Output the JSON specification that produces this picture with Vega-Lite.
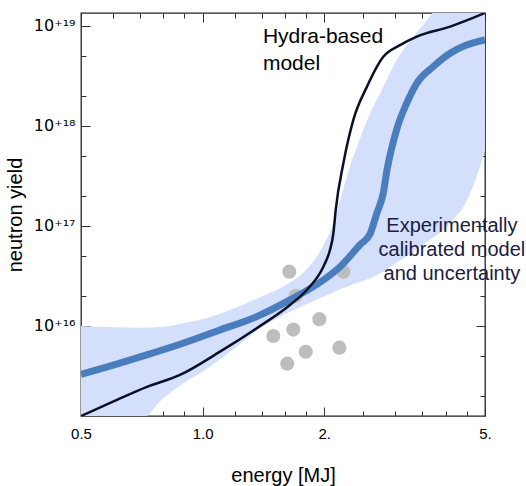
{
  "$schema": "https://vega.github.io/schema/vega-lite/v6.json",
  "width": 404,
  "height": 403,
  "autosize": {"type": "none"},
  "padding": {"left": 81, "top": 13, "right": 41, "bottom": 70},
  "config": {
    "view": {"stroke": "#222", "strokeWidth": 1.3},
    "font": "Liberation Sans",
    "axis": {"domain": false, "grid": false, "ticks": true, "zindex": 1, "tickColor": "#333", "tickWidth": 1, "labelColor": "#000", "titleColor": "#000", "titleFontWeight": "normal"}
  },
  "resolve": {"axis": {"x": "independent", "y": "independent"}},
  "layer": [
    {
      "data": {"values": [
        {"energy": 0.5, "lo": 1.1e15, "hi": 1.0e16},
        {"energy": 0.6, "lo": 1.1e15, "hi": 9.7e15},
        {"energy": 0.7, "lo": 1.15e15, "hi": 9.6e15},
        {"energy": 0.8, "lo": 1.9e15, "hi": 9.8e15},
        {"energy": 0.9, "lo": 2.7e15, "hi": 1.07e16},
        {"energy": 1.0, "lo": 3.5e15, "hi": 1.17e16},
        {"energy": 1.2, "lo": 6.0e15, "hi": 1.5e16},
        {"energy": 1.4, "lo": 9.7e15, "hi": 1.97e16},
        {"energy": 1.6, "lo": 1.31e16, "hi": 2.54e16},
        {"energy": 1.8, "lo": 1.64e16, "hi": 3.6e16},
        {"energy": 2.0, "lo": 1.98e16, "hi": 6.6e16},
        {"energy": 2.1, "lo": 2.15e16, "hi": 1.02e17},
        {"energy": 2.2, "lo": 2.35e16, "hi": 1.93e17},
        {"energy": 2.3, "lo": 2.5e16, "hi": 3.6e17},
        {"energy": 2.4, "lo": 2.68e16, "hi": 5.9e17},
        {"energy": 2.6, "lo": 3.0e16, "hi": 1.34e18},
        {"energy": 2.8, "lo": 3.5e16, "hi": 2.44e18},
        {"energy": 3.0, "lo": 4.2e16, "hi": 4.3e18},
        {"energy": 3.3, "lo": 5.4e16, "hi": 7.5e18},
        {"energy": 3.6, "lo": 7.0e16, "hi": 1.15e19},
        {"energy": 4.0, "lo": 9.6e16, "hi": 2.0e19},
        {"energy": 4.2, "lo": 1.2e17, "hi": 2.4e19},
        {"energy": 4.4, "lo": 1.5e17, "hi": 3.0e19},
        {"energy": 4.6, "lo": 2.14e17, "hi": 3.8e19},
        {"energy": 4.8, "lo": 3.35e17, "hi": 4.4e19},
        {"energy": 5.0, "lo": 5.7e17, "hi": 5.0e19}
      ]},
      "mark": {"type": "area", "color": "#d3dffb", "clip": true, "interpolate": "monotone"},
      "encoding": {
        "x": {
          "field": "energy", "type": "quantitative",
          "scale": {"type": "log", "domain": [0.5, 5], "nice": false, "zero": false},
          "axis": {
            "orient": "bottom",
            "values": [0.5, 1, 2, 5],
            "labelExpr": "datum.value==0.5?'0.5':datum.value==1?'1.0':datum.value==2?'2.':'5.'",
            "tickSize": -9,
            "labelFontSize": 15, "labelPadding": 19,
            "labelOverlap": false, "labelFlush": false, "labelBound": false,
            "title": "energy [MJ]", "titleFontSize": 20, "titlePadding": 24
          }
        },
        "y": {
          "field": "lo", "type": "quantitative",
          "scale": {"type": "log", "domain": [1.26e15, 1.34e19], "nice": false, "zero": false},
          "axis": {
            "orient": "left",
            "values": [1e16, 1e17, 1e18, 1e19],
            "labelExpr": "datum.value==1e16?'10⁺¹⁶':datum.value==1e17?'10⁺¹⁷':datum.value==1e18?'10⁺¹⁸':'10⁺¹⁹'",
            "tickSize": -9,
            "labelFont": "DejaVu Sans",
            "labelFontSize": 16, "labelPadding": 15,
            "labelOverlap": false, "labelFlush": false, "labelBound": false,
            "title": "neutron yield", "titleFontSize": 20, "titlePadding": 8
          }
        },
        "y2": {"field": "hi"}
      }
    },
    {
      "data": {"values": [
        {"energy": 1.639, "yield": 3.49e16},
        {"energy": 1.70, "yield": 2.0e16},
        {"energy": 2.23, "yield": 3.49e16},
        {"energy": 1.945, "yield": 1.17e16},
        {"energy": 1.677, "yield": 9.2e15},
        {"energy": 1.496, "yield": 7.94e15},
        {"energy": 1.80, "yield": 5.53e15},
        {"energy": 2.18, "yield": 6.07e15},
        {"energy": 1.62, "yield": 4.2e15}
      ]},
      "mark": {"type": "circle", "color": "#bdbdbd", "opacity": 1, "size": 200},
      "encoding": {
        "x": {"field": "energy", "type": "quantitative",
          "axis": {"orient": "bottom", "values": [0.6, 0.7, 0.8, 0.9, 1.2, 1.4, 1.6, 1.8, 2.5, 3, 3.5, 4, 4.5], "labels": false, "title": null, "tickSize": -5}},
        "y": {"field": "yield", "type": "quantitative",
          "axis": {"orient": "left", "values": [2e15, 5e15, 2e16, 5e16, 2e17, 5e17, 2e18, 5e18], "labels": false, "title": null, "tickSize": -5}}
      }
    },
    {
      "data": {"values": [
        {"energy": 0.5, "yield": 3.29e15},
        {"energy": 0.601, "yield": 4.07e15},
        {"energy": 0.727, "yield": 5.13e15},
        {"energy": 0.879, "yield": 6.56e15},
        {"energy": 1.104, "yield": 9.12e15},
        {"energy": 1.361, "yield": 1.24e16},
        {"energy": 1.645, "yield": 1.82e16},
        {"energy": 1.99, "yield": 2.88e16},
        {"energy": 2.19, "yield": 3.91e16},
        {"energy": 2.45, "yield": 6.45e16},
        {"energy": 2.60, "yield": 8.4e16},
        {"energy": 2.70, "yield": 1.34e17},
        {"energy": 2.80, "yield": 2.12e17},
        {"energy": 2.86, "yield": 3.6e17},
        {"energy": 3.02, "yield": 9.1e17},
        {"energy": 3.20, "yield": 1.68e18},
        {"energy": 3.39, "yield": 2.66e18},
        {"energy": 3.72, "yield": 3.89e18},
        {"energy": 4.10, "yield": 5.3e18},
        {"energy": 4.50, "yield": 6.4e18},
        {"energy": 5.0, "yield": 7.2e18}
      ]},
      "mark": {"type": "line", "color": "#4a7dbd", "strokeWidth": 7, "interpolate": "monotone", "clip": true},
      "encoding": {
        "x": {"field": "energy", "type": "quantitative",
          "axis": {"orient": "top", "values": [0.5, 1, 2, 5], "labels": false, "title": null, "tickSize": -9}},
        "y": {"field": "yield", "type": "quantitative",
          "axis": {"orient": "right", "values": [1e16, 1e17, 1e18, 1e19], "labels": false, "title": null, "tickSize": -9}}
      }
    },
    {
      "data": {"values": [
        {"energy": 0.5, "yield": 1.26e15},
        {"energy": 0.60, "yield": 1.75e15},
        {"energy": 0.728, "yield": 2.46e15},
        {"energy": 0.879, "yield": 3.24e15},
        {"energy": 1.104, "yield": 5.54e15},
        {"energy": 1.361, "yield": 9.5e15},
        {"energy": 1.645, "yield": 1.62e16},
        {"energy": 1.81, "yield": 2.29e16},
        {"energy": 1.99, "yield": 3.91e16},
        {"energy": 2.066, "yield": 5.74e16},
        {"energy": 2.107, "yield": 8.4e16},
        {"energy": 2.135, "yield": 1.44e17},
        {"energy": 2.23, "yield": 4.2e17},
        {"energy": 2.36, "yield": 1.14e18},
        {"energy": 2.55, "yield": 2.45e18},
        {"energy": 2.80, "yield": 4.9e18},
        {"energy": 3.08, "yield": 6.4e18},
        {"energy": 3.39, "yield": 7.8e18},
        {"energy": 4.10, "yield": 9.8e18},
        {"energy": 5.0, "yield": 1.34e19}
      ]},
      "mark": {"type": "line", "color": "#0b1026", "strokeWidth": 2.5, "interpolate": "monotone", "clip": true},
      "encoding": {
        "x": {"field": "energy", "type": "quantitative",
          "axis": {"orient": "top", "values": [0.6, 0.7, 0.8, 0.9, 1.2, 1.4, 1.6, 1.8, 2.5, 3, 3.5, 4, 4.5], "labels": false, "title": null, "tickSize": -5}},
        "y": {"field": "yield", "type": "quantitative",
          "axis": {"orient": "right", "values": [2e15, 5e15, 2e16, 5e16, 2e17, 5e17, 2e18, 5e18], "labels": false, "title": null, "tickSize": -5}}
      }
    },
    {
      "data": {"values": [
        {"energy": 1.41, "yield": 6.7e18, "label": "Hydra-based\nmodel"}
      ]},
      "mark": {"type": "text", "align": "left", "baseline": "alphabetic", "fontSize": 21, "lineHeight": 27, "lineBreak": "\n", "color": "#000", "font": "Liberation Sans"},
      "encoding": {
        "x": {"field": "energy", "type": "quantitative", "axis": null},
        "y": {"field": "yield", "type": "quantitative", "axis": null},
        "text": {"field": "label"}
      }
    },
    {
      "data": {"values": [
        {"energy": 4.14, "yield": 8.6e16, "label": "Experimentally\ncalibrated model\nand uncertainty"}
      ]},
      "mark": {"type": "text", "align": "center", "baseline": "alphabetic", "fontSize": 20, "lineHeight": 24, "lineBreak": "\n", "color": "#1b2040", "font": "Liberation Sans"},
      "encoding": {
        "x": {"field": "energy", "type": "quantitative", "axis": null},
        "y": {"field": "yield", "type": "quantitative", "axis": null},
        "text": {"field": "label"}
      }
    }
  ]
}
